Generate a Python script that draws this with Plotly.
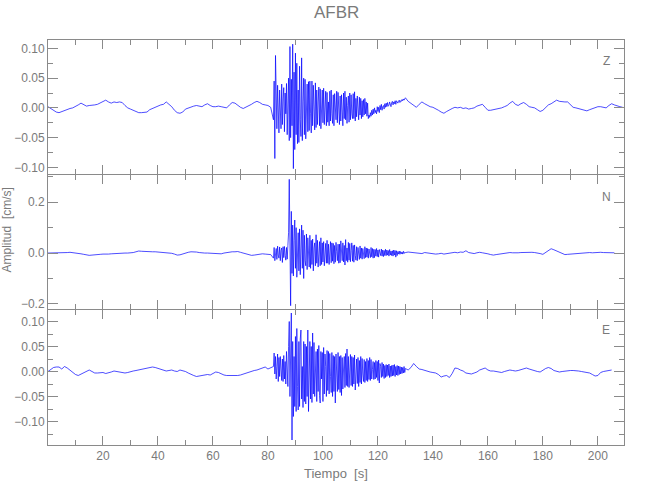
import numpy as np
import plotly.graph_objects as go

# ---------------- data (cm/s) ----------------
station = "AFBR"
components = ["Z", "N", "E"]
x_tick_vals = [20, 40, 60, 80, 100, 120, 140, 160, 180, 200]

# sample times: quiet pre-event (1 s), strong motion (0.25 s), coda (1 s)
t_pre = np.arange(0, 82, 1.0)
t_evt = np.arange(82, 130, 0.25)
t_post = np.arange(130, 210, 1.0)

z_pre = [.002, -.001, -.004, -.007, -.008, -.006, -.004, -.003, -.001, .000,
         .002, .005, .008, .006, .003, .004, .004, .005, .006, .008,
         .010, .013, .010, .008, .010, .009, .010, .009, .004, .000,
         -.002, -.004, -.006, -.008, -.008, -.007, -.007, -.003, -.001, .002,
         .003, .005, .006, .010, .006, .002, -.004, -.008, -.009, -.007,
         -.002, .000, .001, .003, .004, .003, .002, .005, .007, .004,
         .002, .002, .003, .002, .001, .000, .005, .009, .008, .004,
         .001, -.001, .001, .003, .006, .009, .011, .009, .006, .005,
         .004, .001]
z_evt = [-.020, .045, -.085, .088, .010, -.035, .038, -.012, -.042, .030, .005, -.035,
         .040, -.028, .015, .034, -.040, .025, -.010, .041, -.045, .020, .050, -.055,
         .103, -.050, .048, -.030, .107, -.102, .060, -.070, .092, -.045, .075, -.060,
         .030, -.058, .070, -.020, -.048, .084, -.055, .010, .050, -.045, .048, -.052,
         .015, .040, -.040, .044, -.038, .045, -.010, -.042, .045, -.030, .038, .005,
         -.037, .042, -.033, .030, -.028, .010, .035, -.030, .032, -.035, .015, .030,
         -.025, .033, -.028, .005, .028, -.030, .026, -.024, .010, -.030, .028, -.022,
         .030, -.010, -.026, .022, -.030, .024, .005, -.020, .028, -.025, .026, -.008,
         -.028, .020, -.022, .022, .005, -.030, .025, -.018, .028, -.020, .018, -.026,
         .004, .020, -.024, .025, -.020, .022, -.010, -.018, .024, -.018, .027, -.022,
         .016, -.015, .020, .002, -.020, .018, -.012, .016, -.018, .012, -.015, .014,
         -.012, .016, -.010, .010, -.014, .008, -.018, -.012, -.016, -.008, -.014, -.004,
         -.012, -.002, -.010, .000, -.008, -.004, -.010, .002, -.006, .001, -.008, .004,
         -.003, .006, -.004, .002, .004, -.002, .007, .001, .008, .002, .009, .003,
         .004, .010, .006, .002, .009, .011, .005, .010, .007, .012, .006, .012,
         .010, .008, .011, .013, .009, .012, .011, .014, .012, .015, .013, .017]
z_post = [.017, .011, .008, .005, .001, .006, .010, .007, .004, .002,
          .001, -.001, -.004, -.007, -.009, -.006, -.003, -.001, .001, .000,
          .001, -.001, .000, -.002, -.001, .000, .003, .005, .006, .001,
          -.004, -.004, -.003, -.003, -.001, .000, .002, .004, .008, .011,
          .006, .004, .007, .009, .006, .002, .001, .000, -.003, -.006,
          -.004, .001, .005, .007, .010, .013, .011, .010, .010, .010,
          .005, .001, .000, -.001, -.003, -.004, -.005, -.003, -.001, .000,
          .002, .002, .001, .000, .004, .007, .005, .003, .002, .001]

n_pre = [.000, .000, .001, .000, .000, .000, .001, .002, .003, .002,
         .000, -.002, -.003, -.005, -.008, -.009, -.008, -.006, -.005, -.005,
         -.004, -.005, -.004, -.003, -.002, .000, .001, .001, .000, .000,
         .000, .002, .005, .008, .007, .006, .006, .005, .005, .005,
         .004, .004, .004, .002, .000, -.001, -.004, -.008, -.007, -.003,
         .001, .003, .005, .006, .004, .002, .000, .000, .000, -.001,
         -.001, -.002, -.004, -.003, .000, .002, .004, .005, .005, .006,
         .003, .000, -.003, -.006, -.009, -.008, -.006, -.004, -.003, -.004,
         -.005, -.006]
n_evt = [-.020, .022, -.030, .005, .018, -.025, .027, -.008, -.020, .024, -.030, .010,
         .020, -.037, .025, -.018, .026, -.010, -.028, .022, -.024, .030, .080, .290,
         -.060, -.207, .164, -.080, .110, -.090, .050, .130, -.060, .100, -.095, .030,
         .080, -.070, .095, -.085, .010, .110, -.060, .090, -.100, .070, -.030, -.050,
         .075, -.065, .060, .010, -.055, .070, -.060, .050, -.045, .055, -.070, .020,
         .040, -.050, .072, -.040, .050, -.055, .010, .045, -.050, .060, -.045, .040,
         -.035, .045, -.050, .005, .038, -.040, .050, -.040, .035, -.045, .010, .045,
         -.038, .040, -.032, .038, -.042, .030, -.036, .042, .005, -.030, .035, -.040,
         .035, -.038, .048, -.010, -.030, .040, -.035, .030, -.047, .053, -.030, .020,
         -.036, .042, -.028, .038, -.034, .010, .040, -.032, .030, -.036, .032, -.010,
         -.028, .025, -.030, .022, .005, -.025, .028, -.020, .020, -.024, .018, -.008,
         -.022, .025, -.018, .020, -.016, .018, -.020, .016, .004, -.018, .022, -.015,
         .018, -.020, .015, -.018, .014, -.012, .018, -.014, .012, -.016, .014, -.003,
         -.010, .016, -.012, .012, -.014, .010, -.010, .015, -.010, .012, -.008, .010,
         -.012, .014, -.008, .008, -.010, .009, -.012, .012, -.008, .010, -.016, .009,
         -.010, .006, -.004, .008, -.005, .006, -.003, .004, -.004, .007, -.002, .003]
n_post = [.002, .004, .003, .002, .003, .001, -.002, .002, .001, -.003,
          -.002, -.004, -.003, -.001, -.004, -.002, .001, .002, .003, .001,
          .004, .003, .009, .002, -.001, -.002, .001, .003, .001, .000,
          -.003, -.006, -.008, -.006, -.004, -.005, -.003, .000, .002, .001,
          .000, .001, .002, .003, .002, .002, .003, .002, .001, -.002,
          -.005, .003, .010, .017, .013, .008, .003, -.003, -.006, -.005,
          -.004, -.003, -.003, -.001, .001, .000, .001, .002, .001, .002,
          .004, .003, .002, .002, .001, .002, .001]

e_pre = [.000, .005, .008, .009, .009, .005, .010, .007, .003, -.002,
         -.006, -.008, -.005, -.002, .001, .003, .000, -.003, -.003, -.002,
         -.002, -.004, -.003, -.001, .001, .000, -.002, -.002, -.003, -.002,
         .000, .001, .002, .003, .004, .005, .007, .008, .009, .008,
         .006, .004, .002, .001, .002, .003, .001, .000, .003, .002,
         .000, -.003, -.006, -.008, -.010, -.009, -.007, -.007, -.006, -.007,
         -.004, -.001, -.002, -.005, -.007, -.008, -.008, -.008, -.009, -.008,
         -.007, -.005, -.003, -.001, .000, .002, .003, .005, .007, .009,
         .005, .007]
e_evt = [.010, .037, -.005, .030, -.015, .010, .035, -.020, .028, -.010, .030, .005,
         -.018, .025, -.020, .032, -.015, .020, -.025, .040, .010, -.030, .050, .100,
         -.050, .103, .117, -.137, .060, -.090, .030, -.070, .070, -.080, .086, -.030,
         -.077, .060, -.070, .065, .083, -.055, .010, -.072, .060, -.060, .055, -.065,
         .050, -.050, .083, -.080, .020, .060, -.055, .050, -.062, .077, -.045, .058,
         -.050, .010, .040, -.060, .045, -.040, .052, -.048, -.063, .040, -.015, .038,
         -.060, .048, -.045, .035, .010, -.050, .042, -.038, .040, -.045, .036, -.010,
         -.042, .038, -.050, .032, -.040, .030, -.063, .035, .010, -.040, .038, -.036,
         .030, -.042, .032, -.048, .028, -.035, .005, .030, -.032, .036, -.028, .045,
         -.030, .030, -.032, .010, .034, -.028, .030, -.030, .028, -.025, .033, -.037,
         .005, .025, -.024, .028, -.030, .022, -.022, .030, -.025, .026, -.005, -.020,
         .024, -.022, .020, -.018, .026, -.020, .022, -.016, .028, -.018, .024, -.015,
         .004, .020, -.016, .018, -.015, .022, -.012, .020, -.018, .023, -.023, .016,
         .010, -.012, .018, -.010, .015, -.014, .012, -.012, .014, -.010, .013, -.008,
         .015, -.012, .011, -.010, .012, -.009, .013, -.008, .014, -.010, .010, -.007,
         .012, -.008, .011, -.006, .010, -.005, .009, -.004, .008, -.003, .010, -.002]
e_post = [.006, .003, .008, .016, .010, .005, .004, .002, .000, -.001,
          -.002, -.003, -.006, -.011, -.009, -.008, -.012, -.004, .007, .006,
          .003, .001, -.003, -.004, -.005, -.003, -.001, .003, .005, .007,
          .003, .001, .001, .000, -.001, -.002, .000, .002, .003, .002,
          .001, .002, .004, .006, .007, .005, .003, .001, .000, -.001,
          .003, .006, .008, .006, .002, .001, -.001, .000, .001, .001,
          .002, .002, .002, .001, .000, -.001, -.002, -.003, -.006, -.009,
          -.008, -.002, .000, .001, .002, .003]

y_ranges = {"Z": [-0.111, 0.114], "N": [-0.22, 0.307], "E": [-0.147, 0.123]}
y_dticks = {"Z": (0.05, 0.025, ".2f"), "N": (0.2, 0.1, ".1f"), "E": (0.05, 0.025, ".2f")}


def series(pre, evt, post):
    t = np.concatenate([t_pre[:len(pre)], t_evt[:len(evt)], t_post[:len(post)]])
    v = np.array(list(pre) + list(evt) + list(post))
    return t, v


traces = {
    "Z": series(z_pre, z_evt, z_post),
    "N": series(n_pre, n_evt, n_post),
    "E": series(e_pre, e_evt, e_post),
}

# ---------------- figure ----------------
GRAY = "#8a8a8a"
TXT = "#7a7a7a"
FONT = "Liberation Sans"
PLOT_H = 405.0
px1 = 1.0 / PLOT_H  # one pixel, so that adjoining axis lines coincide

fig = go.Figure()
domains = {"Z": [2 / 3 + px1, 1.0], "N": [1 / 3 + px1, 2 / 3], "E": [0.0, 1 / 3]}
axis_ids = {"Z": ("x", "y"), "N": ("x2", "y2"), "E": ("x3", "y3")}

for comp in components:
    t, v = traces[comp]
    xa, ya = axis_ids[comp]
    fig.add_trace(go.Scatter(x=t, y=v, mode="lines", xaxis=xa, yaxis=ya,
                             line=dict(color="#0000ff", width=0.7),
                             showlegend=False, hoverinfo="skip"))

layout = dict(
    width=650, height=500,
    margin=dict(l=48, r=26, t=40, b=55, autoexpand=False),
    paper_bgcolor="white", plot_bgcolor="white",
    font=dict(family=FONT, color=TXT, size=12),
)

for i, comp in enumerate(components):
    xa, ya = axis_ids[comp]
    xkey = "xaxis" if xa == "x" else "xaxis" + xa[1:]
    ykey = "yaxis" if ya == "y" else "yaxis" + ya[1:]
    major, minor, fmt = y_dticks[comp]
    layout[xkey] = dict(
        domain=[0, 1], anchor=ya, range=[0, 209.5], automargin=False,
        showgrid=False, zeroline=False, showline=True, linecolor=GRAY, linewidth=1,
        mirror="ticks", ticks="inside", ticklen=9, tickcolor=GRAY,
        tickmode="array", tickvals=x_tick_vals, showticklabels=(comp == "E"),
        tickfont=dict(size=12, color=TXT, family=FONT),
        minor=dict(tick0=0, dtick=10, ticks="inside", ticklen=5, tickcolor=GRAY),
    )
    if comp != "Z":
        layout[xkey]["matches"] = "x"
    layout[ykey] = dict(
        domain=domains[comp], anchor=xa, range=y_ranges[comp], automargin=False,
        showgrid=False, zeroline=False, showline=True, linecolor=GRAY, linewidth=1,
        mirror="ticks", ticks="inside", ticklen=10, tickcolor=GRAY,
        dtick=major, tick0=0, tickformat=fmt,
        tickfont=dict(size=12, color=TXT, family=FONT),
        minor=dict(dtick=minor, ticks="inside", ticklen=5, tickcolor=GRAY),
    )

fig.update_layout(**layout)

annots = [
    dict(text=station, x=0.5, y=1.069, font=dict(size=17, color=TXT)),
    dict(text="Tiempo  [s]", x=0.5, y=-0.070, font=dict(size=13, color=TXT)),
    dict(text="Amplitud  [cm/s]", x=-0.072, y=0.531, textangle=-90,
         font=dict(size=12, color=TXT)),
    dict(text="Z", x=0.969, y=0.948, font=dict(size=12, color=TXT)),
    dict(text="N", x=0.969, y=0.612, font=dict(size=12, color=TXT)),
    dict(text="E", x=0.969, y=0.284, font=dict(size=12, color=TXT)),
]
for a in annots:
    fig.add_annotation(xref="paper", yref="paper", showarrow=False,
                       xanchor="center", yanchor="middle", **a)

fig.write_html("out.html", config={"displayModeBar": False},
               post_script="document.body.style.margin='0';document.body.style.overflow='hidden';")
